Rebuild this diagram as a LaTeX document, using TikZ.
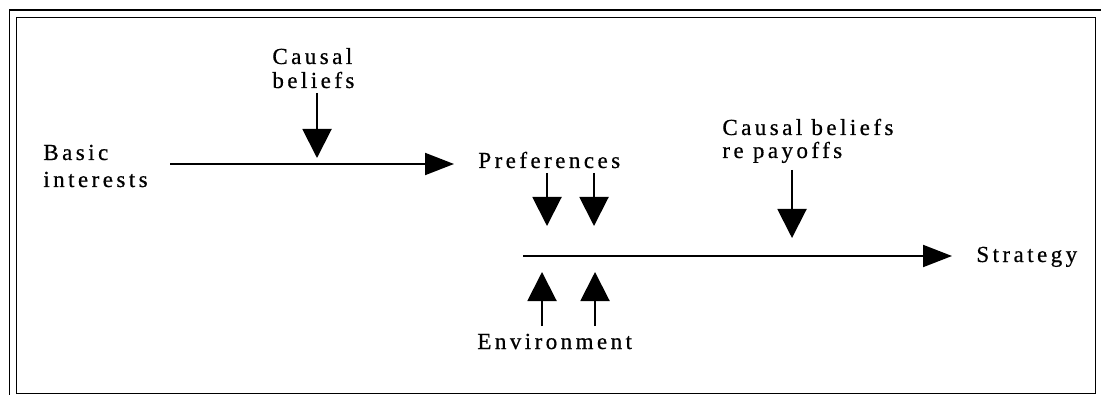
\documentclass[tikz,border=0pt]{standalone}
\usepackage{fontspec}
\setmainfont{Liberation Serif}[LetterSpace=15, FakeBold=0.6]
\usetikzlibrary{arrows.meta}

\begin{document}
\begin{tikzpicture}[x=0.5pt, y=-0.5pt,
  lbl/.style={anchor=base west, inner sep=0pt, align=left, font=\fontsize{11.5}{12}\selectfont},
  hline/.style={-{Triangle[length=14.5pt,width=11pt]}, line width=1pt},
  vline/.style={-{Triangle[length=14.5pt,width=14.5pt]}, line width=1pt},
  frame/.style={line width=0.9pt}]
\useasboundingbox (0,0) rectangle (1101,395);
% frame
\draw[frame] (16.5,17.5) rectangle (1095.5,393.5);
\draw[frame] (9.5,395) -- (9.5,10) -- (1101,10);

% labels (base = last line)
\node[lbl] (basic) at (43,187) {Basic\\[1.5pt]interests};
\node[lbl] (causal) at (272,88) {Causal\\beliefs};
\node[lbl] (prefs) at (478,168) {Preferences};
\node[lbl] (payoffs) at (722,158) {Causal beliefs\\[-0.5pt]re payoffs};
\node[lbl] (strategy) at (976,262) {Strategy};
\node[lbl] (envir) at (477,349) {Environment};

% end points of the two main lines
\coordinate (l1a) at (170,164);
\coordinate (l1b) at (454,164);
\coordinate (l2a) at (523,256);
\coordinate (l2b) at (952,256);

\draw[hline] (l1a) -- (l1b);
\draw[hline] (l2a) -- (l2b);

% arrows into the lines
\draw[vline] (317,93) -- (317,158);
\draw[vline] (547,173) -- (547,226);
\draw[vline] (594,173) -- (594,226);
\draw[vline] (792,170) -- (792,238);
\draw[vline] (542,326) -- (542,272);
\draw[vline] (595,326) -- (595,272);
\end{tikzpicture}
\end{document}
